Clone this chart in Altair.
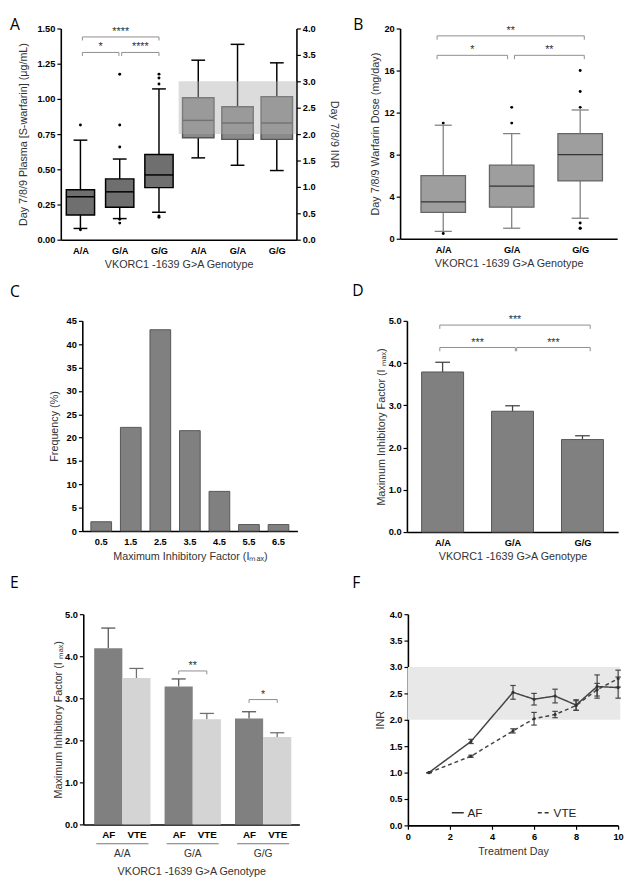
import json
import altair as alt
import pandas as pd

FONT = "Liberation Sans"
LFONT = "Open Sans"

GENO = ["A/A", "G/A", "G/G"]
SERIES = ["AF", "VTE"]
GENO_TITLE = "VKORC1 -1639 G>A Genotype"
IMAX_Y_TITLE = "Maximum Inhibitory Factor (I \u2098\u2090\u2093)"
IMAX_X_TITLE = "Maximum Inhibitory Factor (I\u2098\u2090\u2093)"

# ---------------- Panel A : plasma S-warfarin (left) and INR (right) ----------------
A_CONC_LO = [0.080, 0.150, 0.195]
A_CONC_Q1 = [0.175, 0.230, 0.370]
A_CONC_MED = [0.305, 0.340, 0.460]
A_CONC_Q3 = [0.355, 0.432, 0.605]
A_CONC_HI = [0.707, 0.573, 1.071]
A_OUT_GENO = ["A/A", "A/A", "G/A", "G/A", "G/A", "G/A", "G/A", "G/G", "G/G", "G/G", "G/G", "G/G"]
A_OUT_VAL = [0.815, 0.070, 1.175, 0.815, 0.658, 0.145, 0.118, 1.176, 1.148, 1.106, 0.168, 0.160]

A_INR_LO = [1.55, 1.41, 1.31]
A_INR_Q1 = [1.93, 1.90, 1.90]
A_INR_MED = [2.26, 2.21, 2.21]
A_INR_Q3 = [2.69, 2.52, 2.71]
A_INR_HI = [3.40, 3.70, 3.35]
INR_TARGET = [2.0, 3.0]

A_SIG_X1 = [0.55, 0.55, 1.55]
A_SIG_X2 = [2.50, 1.48, 2.50]
A_SIG_Y = [1.44, 1.33, 1.33]
A_SIG_LABEL = ["****", "*", "****"]

# ---------------- Panel B : warfarin dose ----------------
B_LO = [0.70, 1.00, 1.95]
B_Q1 = [2.50, 3.00, 5.50]
B_MED = [3.50, 5.00, 8.00]
B_Q3 = [6.00, 7.00, 10.00]
B_HI = [10.80, 10.00, 12.25]
B_OUT_GENO = ["A/A", "A/A", "G/A", "G/A", "G/G", "G/G", "G/G", "G/G", "G/G", "G/G"]
B_OUT_VAL = [11.0, 0.5, 12.5, 11.0, 16.0, 14.0, 12.5, 1.5, 1.0, 1.0]
B_SIG_X1 = [0.41, 0.41, 1.54]
B_SIG_X2 = [2.56, 1.44, 2.56]
B_SIG_Y = [19.3, 17.45, 17.45]
B_SIG_LABEL = ["**", "*", "**"]

# ---------------- Panel C : Imax histogram ----------------
C_BINS = ["0.5", "1.5", "2.5", "3.5", "4.5", "5.5", "6.5"]
C_FREQ = [2.0, 22.2, 43.1, 21.5, 8.5, 1.4, 1.4]

# ---------------- Panel D : Imax by genotype ----------------
D_MEAN = [3.79, 2.86, 2.19]
D_SEM = [0.23, 0.13, 0.09]
D_SIG_X1 = [0.46, 0.46, 1.56]
D_SIG_X2 = [2.61, 1.54, 2.61]
D_SIG_Y = [4.90, 4.37, 4.37]
D_SIG_LABEL = ["***", "***", "***"]

# ---------------- Panel E : Imax by genotype and indication ----------------
E_AF = [4.19, 3.28, 2.52]
E_AF_SEM = [0.48, 0.18, 0.16]
E_VTE = [3.48, 2.50, 2.08]
E_VTE_SEM = [0.23, 0.14, 0.10]
E_SIG_X1 = [1.30, 2.30]
E_SIG_X2 = [1.70, 2.70]
E_SIG_Y = [3.65, 2.97]
E_SIG_LABEL = ["**", "*"]

# ---------------- Panel F : INR over time ----------------
F_DAYS = [1, 3, 5, 6, 7, 8, 9, 10]
F_AF = [1.00, 1.59, 2.52, 2.39, 2.45, 2.28, 2.63, 2.61]
F_AF_SEM = [0.00, 0.04, 0.13, 0.11, 0.13, 0.10, 0.22, 0.20]
F_VTE = [1.00, 1.31, 1.79, 2.02, 2.10, 2.27, 2.57, 2.78]
F_VTE_SEM = [0.00, 0.02, 0.04, 0.12, 0.06, 0.09, 0.12, 0.16]


# ---------------- helpers ----------------
def enc_x(scale, axis):
    return lambda f: alt.X(f"{f}:Q", scale=scale, axis=axis)


def enc_y(scale, axis):
    return lambda f: alt.Y(f"{f}:Q", scale=scale, axis=axis)


def letter(t, dx, offset):
    return alt.TitleParams(text=t, anchor="start", frame="group", dx=dx, offset=offset,
                           font=LFONT, fontSize=16, fontWeight="normal", color="black")


def box_layers(df, X, Y, box_w, cap_w, fill, stroke, whisker, median, sw=1.5):
    base = alt.Chart(df).transform_calculate(
        xl=f"datum.c - {box_w / 2}", xr=f"datum.c + {box_w / 2}",
        cl=f"datum.c - {cap_w / 2}", cr=f"datum.c + {cap_w / 2}")
    return [
        base.mark_rule(color=whisker, strokeWidth=sw).encode(x=X("c"), y=Y("q3"), y2="hi"),
        base.mark_rule(color=whisker, strokeWidth=sw).encode(x=X("c"), y=Y("lo"), y2="q1"),
        base.mark_rule(color=whisker, strokeWidth=sw).encode(x=X("cl"), x2="cr", y=Y("hi")),
        base.mark_rule(color=whisker, strokeWidth=sw).encode(x=X("cl"), x2="cr", y=Y("lo")),
        base.mark_rect(fill=fill, stroke=stroke, strokeWidth=sw).encode(x=X("xl"), x2="xr", y=Y("q1"), y2="q3"),
        base.mark_rule(color=median, strokeWidth=sw).encode(x=X("xl"), x2="xr", y=Y("med")),
    ]


def sig_layers(x1, x2, y, labels, tick, X, Y):
    h = pd.DataFrame({"x1": x1, "x2": x2, "y": y})
    v = pd.DataFrame({"x": x1 + x2, "y": y + y})
    v["y2"] = v["y"] - tick
    t = pd.DataFrame({"x": [(a + b) / 2 for a, b in zip(x1, x2)], "y": y, "t": labels})
    return [
        alt.Chart(h).mark_rule(color="#8c8c8c", strokeWidth=1).encode(x=X("x1"), x2="x2", y=Y("y")),
        alt.Chart(v).mark_rule(color="#8c8c8c", strokeWidth=1).encode(x=X("x"), y=Y("y"), y2="y2"),
        alt.Chart(t).mark_text(font=FONT, fontSize=11, color="#333", baseline="alphabetic", dy=-2).encode(
            x=X("x"), y=Y("y"), text="t:N"),
    ]


def box_df(lo, q1, med, q3, hi, shift=0.0):
    return pd.DataFrame({"g": GENO, "c": [i + 0.5 + shift for i in range(len(GENO))],
                         "lo": lo, "q1": q1, "med": med, "q3": q3, "hi": hi})


def out_df(genos, vals, shift=0.0):
    return pd.DataFrame({"g": genos, "v": vals, "c": [GENO.index(g) + 0.5 + shift for g in genos]})


def spacer():
    return alt.Chart(pd.DataFrame({"v": [0]})).mark_point(opacity=0, size=1).encode(
        x=alt.value(0), y=alt.value(0)).properties(width=1, height=1)


# ---------------- Panel A ----------------
A_LABELS = GENO + GENO
xA = enc_x(alt.Scale(domain=[0, len(A_LABELS)], nice=False, zero=False),
           alt.Axis(values=[i + 0.5 for i in range(len(A_LABELS))],
                    labelExpr=f"{json.dumps(A_LABELS)}[floor(datum.value)]",
                    ticks=False, labelFlush=False, labelPadding=6,
                    title=GENO_TITLE, titlePadding=4))
yA = enc_y(alt.Scale(domain=[0, 1.5], nice=False),
           alt.Axis(values=[0, 0.25, 0.5, 0.75, 1.0, 1.25, 1.5], format=".2f",
                    title="Day 7/8/9 Plasma [S-warfarin] (\u03bcg/mL)", titlePadding=9))
yAr = enc_y(alt.Scale(domain=[0, 4], nice=False),
            alt.Axis(orient="right", values=[0, 0.5, 1, 1.5, 2, 2.5, 3, 3.5, 4], format=".1f",
                     title="Day 7/8/9 INR", titlePadding=14))

a_conc = box_df(A_CONC_LO, A_CONC_Q1, A_CONC_MED, A_CONC_Q3, A_CONC_HI)
a_out = out_df(A_OUT_GENO, A_OUT_VAL)
conc_group = alt.layer(
    *box_layers(a_conc, xA, yA, 0.72, 0.35, "#6f6f6f", "black", "black", "black"),
    alt.Chart(a_out).mark_circle(size=9, color="black", opacity=1).encode(x=xA("c"), y=yA("v")),
    *sig_layers(A_SIG_X1, A_SIG_X2, A_SIG_Y, A_SIG_LABEL, 0.025, xA, yA),
)
a_inr = box_df(A_INR_LO, A_INR_Q1, A_INR_MED, A_INR_Q3, A_INR_HI, shift=len(GENO))
band_a = pd.DataFrame({"x1": [len(GENO)], "x2": [2 * len(GENO)], "y1": [INR_TARGET[0]], "y2": [INR_TARGET[1]]})
inr_group = alt.layer(
    *box_layers(a_inr, xA, yAr, 0.8, 0.35, "#8a8a8a", "#555", "black", "#444"),
    alt.Chart(band_a).mark_rect(fill="#afafaf", opacity=0.44).encode(x=xA("x1"), x2="x2", y=yAr("y1"), y2="y2"),
)
A = alt.layer(conc_group, inr_group).resolve_scale(y="independent").properties(
    width=241, height=216, title=letter("A", -52, -10))

# ---------------- Panel B ----------------
xB = enc_x(alt.Scale(domain=[-0.13, 3.04], nice=False, zero=False),
           alt.Axis(values=[i + 0.5 for i in range(len(GENO))],
                    labelExpr=f"{json.dumps(GENO)}[floor(datum.value)]",
                    ticks=False, labelFlush=False, labelPadding=6, title=GENO_TITLE, titlePadding=4))
yB = enc_y(alt.Scale(domain=[0, 20], nice=False),
           alt.Axis(values=[0, 4, 8, 12, 16, 20], title="Day 7/8/9 Warfarin Dose (mg/day)", titlePadding=3))
b_df = box_df(B_LO, B_Q1, B_MED, B_Q3, B_HI)
b_out = out_df(B_OUT_GENO, B_OUT_VAL)
B = alt.layer(
    *box_layers(b_df, xB, yB, 0.65, 0.25, "#9e9e9e", "#666", "#808080", "#333", sw=1.3),
    alt.Chart(b_out).mark_circle(size=9, color="black", opacity=1).encode(x=xB("c"), y=yB("v")),
    *sig_layers(B_SIG_X1, B_SIG_X2, B_SIG_Y, B_SIG_LABEL, 0.37, xB, yB),
).properties(width=222, height=215, title=letter("B", -48, -10))

# ---------------- Panel C ----------------
c_df = pd.DataFrame({"bin": C_BINS, "freq": C_FREQ})
C = alt.Chart(c_df).mark_bar(fill="#808080", stroke="#555", strokeWidth=1).encode(
    x=alt.X("bin:O", sort=C_BINS, scale=alt.Scale(paddingInner=0.3, paddingOuter=0.29),
            axis=alt.Axis(labelAngle=0, ticks=False, labelPadding=6, title=IMAX_X_TITLE, titlePadding=5)),
    y=alt.Y("freq:Q", scale=alt.Scale(domain=[0, 45], nice=False),
            axis=alt.Axis(values=list(range(0, 46, 5)), title="Frequency (%)", titlePadding=7)),
).properties(width=220, height=215, title=letter("C", -74, 16))

# ---------------- Panel D ----------------
xD = enc_x(alt.Scale(domain=[-0.01, 3.01], nice=False, zero=False),
           alt.Axis(values=[i + 0.5 for i in range(len(GENO))],
                    labelExpr=f"{json.dumps(GENO)}[floor(datum.value)]",
                    ticks=False, labelFlush=False, labelPadding=6, title=GENO_TITLE, titlePadding=4))
yD = enc_y(alt.Scale(domain=[0, 5], nice=False),
           alt.Axis(values=[0, 1, 2, 3, 4, 5], format=".1f", title=IMAX_Y_TITLE, titlePadding=2))
d_df = pd.DataFrame({"g": GENO, "c": [i + 0.5 for i in range(len(GENO))], "m": D_MEAN, "s": D_SEM})
d_base = alt.Chart(d_df).transform_calculate(
    xl="datum.c - 0.3", xr="datum.c + 0.3", cl="datum.c - 0.105", cr="datum.c + 0.105",
    e="datum.m + datum.s", z="0")
D = alt.layer(
    d_base.mark_rule(color="#444", strokeWidth=1.3).encode(x=xD("c"), y=yD("m"), y2="e"),
    d_base.mark_rule(color="#444", strokeWidth=1.3).encode(x=xD("cl"), x2="cr", y=yD("e")),
    d_base.mark_rect(fill="#808080", stroke="#555", strokeWidth=1).encode(x=xD("xl"), x2="xr", y=yD("z"), y2="m"),
    *sig_layers(D_SIG_X1, D_SIG_X2, D_SIG_Y, D_SIG_LABEL, 0.09, xD, yD),
).properties(width=216, height=216, title=letter("D", -56, 16))

# ---------------- Panel E ----------------
e_rows = []
for i, g in enumerate(GENO):
    e_rows.append({"g": g, "s": SERIES[0], "c": i + 0.5, "v": E_AF[i], "e": E_AF_SEM[i], "side": -1})
    e_rows.append({"g": g, "s": SERIES[1], "c": i + 0.5, "v": E_VTE[i], "e": E_VTE_SEM[i], "side": 1})
e_df = pd.DataFrame(e_rows)
e_ticks = [i + 0.5 + d for i in range(len(GENO)) for d in (-0.2, 0.2)]
xE = enc_x(alt.Scale(domain=[-0.055, 3.015], nice=False, zero=False),
           alt.Axis(values=e_ticks, labelExpr=f"{json.dumps(SERIES)}[(datum.value % 1) < 0.5 ? 0 : 1]",
                    ticks=False, labelFlush=False, labelPadding=5, labelFontSize=10,
                    title=GENO_TITLE, titlePadding=27))
yE = enc_y(alt.Scale(domain=[0, 5], nice=False),
           alt.Axis(values=[0, 1, 2, 3, 4, 5], format=".1f", title=IMAX_Y_TITLE, titlePadding=1))
e_base = alt.Chart(e_df).transform_calculate(
    xl="datum.side < 0 ? datum.c - 0.4 : datum.c",
    xr="datum.side < 0 ? datum.c : datum.c + 0.4",
    xm="datum.c + 0.2 * datum.side",
    cl="datum.c + 0.2 * datum.side - 0.1", cr="datum.c + 0.2 * datum.side + 0.1",
    hi="datum.v + datum.e", z="0")
e_col = alt.Color("s:N", scale=alt.Scale(domain=SERIES, range=["#555555", "#707070"]), legend=None)
e_fill = alt.Fill("s:N", scale=alt.Scale(domain=SERIES, range=["#808080", "#d4d4d4"]), legend=None)
e_grp = pd.DataFrame({"g": GENO, "c": [i + 0.5 for i in range(len(GENO))]})
e_grp_base = alt.Chart(e_grp).transform_calculate(gl="datum.c - 0.37", gr="datum.c + 0.37",
                                                  ly="-0.46", ty="-0.70")
E = alt.layer(
    e_base.mark_rule(strokeWidth=1.3).encode(x=xE("xm"), y=yE("v"), y2="hi", color=e_col),
    e_base.mark_rule(strokeWidth=1.3).encode(x=xE("cl"), x2="cr", y=yE("hi"), color=e_col),
    e_base.mark_rect(strokeWidth=0).encode(x=xE("xl"), x2="xr", y=yE("z"), y2="v", fill=e_fill),
    *sig_layers(E_SIG_X1, E_SIG_X2, E_SIG_Y, E_SIG_LABEL, 0.08, xE, yE),
    e_grp_base.mark_rule(color="#777", strokeWidth=1.2).encode(x=xE("gl"), x2="gr", y=yE("ly")),
    e_grp_base.mark_text(font=FONT, fontSize=10.5, color="#333").encode(x=xE("c"), y=yE("ty"), text="g:N"),
).properties(width=221, height=215, title=letter("E", -75, 19))

# ---------------- Panel F ----------------
f_rows = []
for s, vals, sems in ((SERIES[0], F_AF, F_AF_SEM), (SERIES[1], F_VTE, F_VTE_SEM)):
    for d, v, e in zip(F_DAYS, vals, sems):
        f_rows.append({"day": d, "s": s, "v": v, "e": e})
f_df = pd.DataFrame(f_rows)
xF = enc_x(alt.Scale(domain=[0, 10], nice=False, zero=False),
           alt.Axis(values=[0, 2, 4, 6, 8, 10], labelFlush=False, labelPadding=2,
                    title="Treatment Day", titlePadding=5))
yF = enc_y(alt.Scale(domain=[0, 4], nice=False),
           alt.Axis(values=[0, 0.5, 1, 1.5, 2, 2.5, 3, 3.5, 4], format=".1f", title="INR", titlePadding=4))
f_base = alt.Chart(f_df).transform_calculate(
    lo="datum.v - datum.e", hi="datum.v + datum.e", cl="datum.day - 0.13", cr="datum.day + 0.13")
band_f = pd.DataFrame({"x1": [0], "x2": [10.1], "y1": [INR_TARGET[0]], "y2": [INR_TARGET[1]]})
F = alt.layer(
    alt.Chart(band_f).mark_rect(fill="#e8e8e8").encode(x=xF("x1"), x2="x2", y=yF("y1"), y2="y2"),
    f_base.mark_rule(color="#444", strokeWidth=1.2).encode(x=xF("day"), y=yF("lo"), y2="hi"),
    f_base.mark_rule(color="#444", strokeWidth=1.2).encode(x=xF("cl"), x2="cr", y=yF("hi")),
    f_base.mark_rule(color="#444", strokeWidth=1.2).encode(x=xF("cl"), x2="cr", y=yF("lo")),
    alt.Chart(f_df).mark_line(color="#444", strokeWidth=1.5).encode(
        x=xF("day"), y=yF("v"),
        strokeDash=alt.StrokeDash("s:N", scale=alt.Scale(domain=SERIES, range=[[1, 0], [4, 3]]),
                                  legend=alt.Legend(orient="none", legendX=44, legendY=196, direction="horizontal",
                                                    title=None, symbolType="stroke", symbolStrokeColor="#333",
                                                    symbolStrokeWidth=1.5, symbolSize=150, labelFont=FONT,
                                                    labelFontSize=12, labelFontWeight="normal", labelColor="#222",
                                                    columnPadding=52, labelOffset=3))),
    alt.Chart(f_df).mark_circle(size=10, color="#333", opacity=1).encode(x=xF("day"), y=yF("v")),
).properties(width=215, height=216, title=letter("F", -57, 19))

IND = dict(strokeDash="independent", color="independent", fill="independent")


def row(left, right, gap):
    inner = alt.hconcat(left, right, spacing=gap).resolve_scale(**IND).resolve_legend(strokeDash="independent")
    return alt.hconcat(spacer(), inner, spacing=0).resolve_scale(**IND).resolve_legend(strokeDash="independent")


row1 = row(A, B, 13)
row2 = row(C, D, 56)
row3 = row(E, F, 54)

chart = alt.concat(row1, row2, row3, columns=1, align="none", spacing=13).resolve_scale(**IND).resolve_legend(
    strokeDash="independent"
).properties(
    padding={"left": 0, "top": 0, "right": 0, "bottom": 0}
).configure_view(stroke=None).configure_axis(
    domainColor="black", domainWidth=1.6, tickColor="black", tickWidth=1.2, tickSize=4,
    labelFont=FONT, labelFontSize=9.5, labelFontWeight="bold", labelColor="black", labelPadding=2,
    titleFont=FONT, titleFontSize=11, titleFontWeight="normal", titleColor="#333", grid=False,
)

chart.save("out.html", embed_options={"renderer": "svg", "actions": False})
